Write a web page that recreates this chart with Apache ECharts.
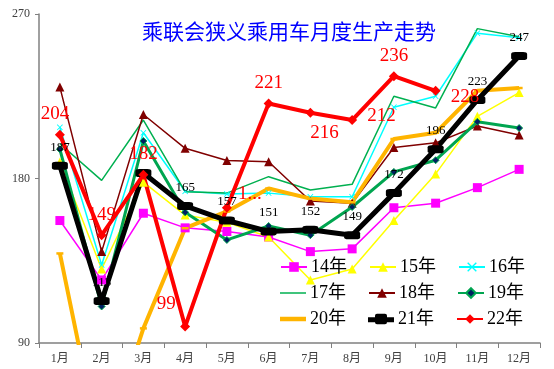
<!DOCTYPE html>
<html>
<head>
<meta charset="utf-8">
<script src="https://cdn.jsdelivr.net/npm/echarts@6/dist/echarts.min.js"></script>
<style>
html,body{margin:0;padding:0;background:#fff;}
#c{width:554px;height:369px;}
</style>
</head>
<body>
<div id="c"></div>
<script>
// ---- data ----
const months = ['1月','2月','3月','4月','5月','6月','7月','8月','9月','10月','11月','12月'];
const yTicks = [90, 180, 270];
const names = ['14年','15年','16年','17年','18年','19年','20年','21年','22年'];
const s14 = [157, 124.5, 161, 153, 151, 148, 140, 141.5, 164, 166.5, 175, 185];
const s15 = [189, 130.5, 178, 160, 156, 148, 124.5, 130.5, 157, 182.5, 214, 227];
const s16 = [208, 132.7, 205, 173, 171.5, 172, 170, 170, 219, 225, 259.5, 257];
const s17 = [199, 179, 212, 172.8, 172, 181, 173.7, 176.8, 225, 218.6, 262, 257.5];
const s18 = [230, 140, 215, 196.5, 189.8, 189.2, 167.7, 166.4, 197, 199.5, 208.7, 203.8];
const s19 = [196, 110, 200.5, 161.5, 146.4, 154, 149, 164.4, 183.6, 190, 211, 207.6];
const s20 = [139, 28, 98, 152.8, 162, 174.5, 169, 167, 201.6, 205, 228, 229.5];
const s21 = [187, 113, 183, 165, 157, 151, 152, 149, 172, 196, 223, 247];
const s22 = [204, 149, 182, 99, 164, 221, 216, 212, 236, 228, null, null];
const label22Text = ['204','149','182','99','1...','221','216','212','236','228'];

// ---- label placement (styling only) ----
const pos22 = [
  {position:'top', offset:[-5,0]},
  {position:'top', offset:[0,0]},
  {position:'top', offset:[0,0]},
  {position:'top', offset:[-19,-2]},
  {position:'right', offset:[0,-14]},
  {position:'top', offset:[0,0]},
  {position:'bottom', offset:[14,0]},
  {position:'right', offset:[4,-4]},
  {position:'top', offset:[0,0]},
  {position:'right', offset:[4,6]}
];
const show21 = [true,true,false,true,true,true,true,true,true,true,true,true];

const serif = "'Liberation Serif','Noto Sans CJK SC',serif";
const xPath = 'path://M0,1L1,0L5,4L9,0L10,1L6,5L10,9L9,10L5,6L1,10L0,9L4,5Z';
const icons = {
  '17年': 'path://M0,0h26v1.5h-26z',
  '20年': 'path://M0,0h26v4.5h-26z',
  '21年': 'path://M0,3.5h7v-1.5q0,-2 2,-2h8q2,0 2,2v1.5h7v5h-7v0q0,2 -2,2h-8q-2,0 -2,-2v0h-7z'
};

function line(name, data, color, width, symbol, size, extra) {
  return Object.assign({
    name: name, type: 'line', data: data,
    symbol: symbol, symbolSize: size, showSymbol: symbol !== 'none',
    lineStyle: {color: color, width: width},
    itemStyle: {color: color},
    clip: true, animation: false
  }, extra || {});
}

function legendRow(list, top) {
  return {
    data: list.map(n => icons[n] ? {name: n, icon: icons[n]} : {name: n}),
    left: 280, top: top,
    itemWidth: 26, itemHeight: 12, itemGap: 22, padding: 0,
    symbolKeepAspect: true,
    textStyle: {fontSize: 18, fontFamily: serif, color: '#000', padding: [0,0,0,-1]},
    selectedMode: false
  };
}

const chart = echarts.init(document.getElementById('c'));
chart.setOption({
  animation: false,
  title: {
    text: '乘联会狭义乘用车月度生产走势',
    left: 137, top: 16,
    textStyle: {color: '#0000FF', fontSize: 21, fontWeight: 'normal', fontFamily: "'Noto Sans CJK SC',sans-serif"}
  },
  legend: [
    legendRow(names.slice(0,3), 258),
    legendRow(names.slice(3,6), 284),
    legendRow(names.slice(6,9), 310)
  ],
  grid: {left: 39, right: 14, top: 14, bottom: 26},
  xAxis: {
    type: 'category', data: months, boundaryGap: true,
    axisLine: {lineStyle: {color: '#808080', width: 1.5}},
    axisTick: {show: true, length: 5, lineStyle: {color: '#808080'}},
    axisLabel: {fontSize: 12, color: '#404040', margin: 10, fontFamily: serif, interval: 0}
  },
  yAxis: {
    type: 'value', min: yTicks[0], max: yTicks[yTicks.length-1], interval: 90,
    splitLine: {show: false},
    axisLine: {show: true, lineStyle: {color: '#808080', width: 1.5}},
    axisTick: {show: true, length: 4, lineStyle: {color: '#808080'}},
    axisLabel: {fontSize: 12, color: '#404040', margin: 9, fontFamily: serif}
  },
  series: [
    line('14年', s14, '#FF00FF', 1.5, 'rect', 9),
    line('15年', s15, '#FFFF00', 1.5, 'triangle', 9),
    line('16年', s16, '#00FFFF', 1.5, xPath, 6),
    line('17年', s17, '#00B050', 1.5, 'none', 0),
    line('18年', s18, '#800000', 1.5, 'triangle', 9),
    line('19年', s19, '#00A550', 3, 'diamond', 7, {
      itemStyle: {color: '#002060', borderColor: '#00A550', borderWidth: 1}
    }),
    line('20年', s20, '#FFB400', 4, 'rect', [7, 2.5]),
    line('21年', s21.map((v, i) => ({
      value: v,
      label: {show: show21[i], position: 'top', distance: 8,
              color: '#000', fontSize: 13, fontFamily: serif}
    })), '#000000', 5, 'roundRect', [16, 8]),
    line('22年', s22.map((v, i) => v == null ? null : ({
      value: v,
      label: Object.assign({show: true, distance: 6, formatter: label22Text[i],
              color: '#FF0000', fontSize: 19, fontFamily: serif}, pos22[i])
    })), '#FF0000', 4, 'diamond', 10)
  ]
});
</script>
</body>
</html>
